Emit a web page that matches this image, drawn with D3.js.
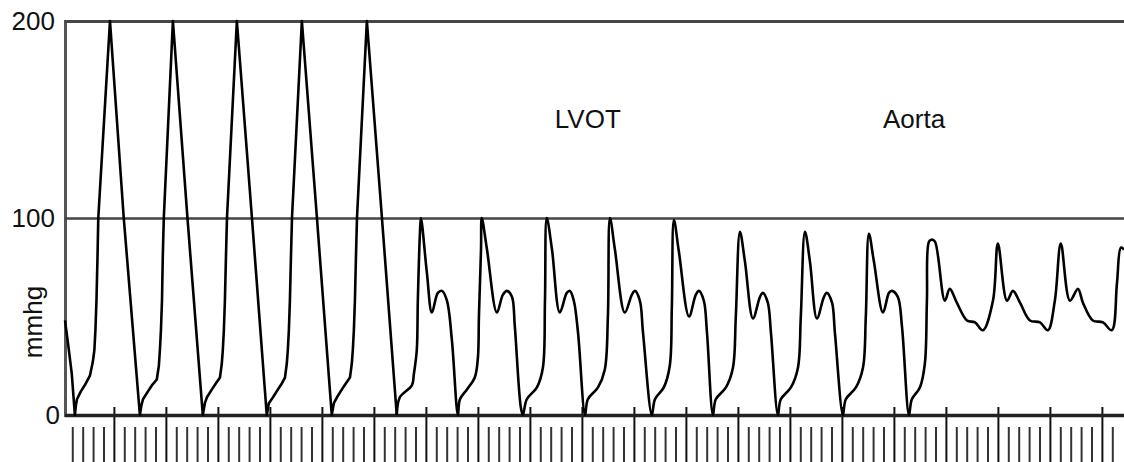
<!DOCTYPE html>
<html>
<head>
<meta charset="utf-8">
<script src="https://cdn.jsdelivr.net/npm/d3@7"></script>
<style>
  body { margin: 0; background: #fff; }
  text { font-family: "Liberation Sans", Arial, Helvetica, sans-serif; fill: #111; }
</style>
</head>
<body>
<svg id="mainSvg"></svg>
<script>
// time in ms (major tick = 200 ms), pressure in mmHg
const yTicks = [0, 100, 200];
const majorTicks = d3.range(0, 3801, 200);
const minorTicks = d3.range(-160, 3841, 40).filter(t => t % 200 !== 0);

// pull-back through the LV cavity
const lvTrace = [
  [-188, 48], [-177, 37], [-162, 21], [-150, 0],
  [-146, 5], [-142, 8], [-127, 12], [-108, 16], [-92, 20], [-81, 27], [-75, 33], [-71, 43], [-67, 58], [-63, 80], [-60, 100],
  [-15, 200], [38, 100], [100, 0],
  [106, 5], [112, 8], [131, 12], [146, 15], [165, 18], [173, 25], [177, 33], [181, 43], [185, 58], [188, 80], [192, 100],
  [227, 200], [283, 100], [342, 0],
  [350, 6], [358, 9], [377, 13], [392, 16], [408, 19], [415, 26], [419, 33], [423, 43], [427, 58], [431, 80], [435, 100],
  [473, 200], [531, 100], [588, 0],
  [596, 6], [612, 9], [631, 13], [646, 16], [658, 19], [665, 26], [669, 33], [673, 43], [677, 58], [681, 80], [685, 100],
  [723, 200], [781, 100], [838, 0],
  [846, 6], [858, 9], [877, 13], [892, 16], [908, 19], [915, 26], [919, 33], [923, 43], [927, 58], [931, 80], [935, 100],
  [973, 200], [1031, 100], [1088, 0]
];

// LV outflow tract
const lvotTrace = [
  [1088, 0],
  [1100, 9], [1146, 15], [1154, 21], [1165, 33], [1169, 58], [1177, 92], [1181, 100], [1204, 72], [1223, 52],
  [1246, 62], [1262, 63], [1281, 58], [1300, 38], [1323, 0],
  [1331, 8], [1358, 13], [1388, 19], [1400, 29], [1404, 50], [1412, 84], [1415, 100], [1435, 84], [1473, 52],
  [1496, 61], [1512, 63], [1531, 60], [1542, 45], [1565, 4], [1573, 0],
  [1588, 8], [1627, 14], [1650, 24], [1658, 58], [1665, 100], [1685, 84], [1715, 52],
  [1742, 62], [1754, 63], [1769, 58], [1785, 42], [1812, 0],
  [1823, 8], [1862, 14], [1888, 23], [1900, 50], [1908, 100], [1927, 84], [1965, 52],
  [1992, 61], [2004, 63], [2023, 58], [2035, 42], [2069, 0],
  [2081, 8], [2115, 14], [2138, 25], [2146, 55], [2154, 99], [2173, 83], [2212, 50],
  [2238, 61], [2250, 63], [2269, 58], [2281, 42], [2304, 0],
  [2315, 8], [2354, 14], [2381, 24], [2392, 50], [2408, 93], [2427, 78], [2458, 49],
  [2485, 60], [2496, 62], [2515, 57], [2527, 42], [2554, 0],
  [2565, 8], [2604, 14], [2631, 24], [2642, 50], [2658, 93], [2677, 78], [2704, 49],
  [2731, 60], [2742, 62], [2762, 57], [2773, 42], [2804, 0],
  [2815, 8], [2854, 14], [2881, 24], [2892, 50], [2904, 92], [2923, 78], [2958, 52],
  [2981, 62], [2992, 63], [3015, 60], [3031, 45], [3058, 0]
];

// aorta
const aortaTrace = [
  [3069, 8], [3100, 14], [3119, 26], [3127, 58], [3135, 88], [3146, 89], [3158, 88], [3196, 58], [3215, 64],
  [3242, 57], [3281, 48], [3312, 47], [3342, 43],
  [3381, 58], [3400, 87], [3435, 58], [3458, 63], [3485, 57], [3523, 48], [3562, 47], [3592, 43],
  [3619, 58], [3642, 87], [3677, 58], [3708, 64], [3727, 57], [3765, 48], [3804, 47], [3838, 43],
  [3858, 67], [3873, 85], [3885, 84]
];

const labels = [
  { text: 'LVOT', t: 1696 },
  { text: 'Aorta', t: 2958 }
];

const width = 1124;
const height = 462;
const plotLeft = 65;
const plotTop = 21;
const baseY = 415;

const svg = d3.select('#mainSvg')
  .attr('width', width)
  .attr('height', height);

const xScale = d3.scaleLinear()
  .domain([-188, 3885])
  .range([plotLeft, width]);

const yScale = d3.scaleLinear()
  .domain([0, 200])
  .range([baseY, plotTop]);

// minor time marks under the baseline
svg.append('g')
  .attr('transform', `translate(0,427)`)
  .call(d3.axisBottom(xScale).tickValues(minorTicks).tickSize(35).tickFormat(''))
  .call(g => g.select('.domain').remove())
  .call(g => g.selectAll('line').attr('stroke', '#333').attr('stroke-width', 2));

// major time marks crossing the baseline
svg.append('g')
  .attr('transform', `translate(0,407)`)
  .call(d3.axisBottom(xScale).tickValues(majorTicks).tickSize(56).tickFormat(''))
  .call(g => g.select('.domain').remove())
  .call(g => g.selectAll('line').attr('stroke', '#111').attr('stroke-width', 2));

// pressure axis + grid
const yAxis = svg.append('g')
  .attr('transform', `translate(${plotLeft},0)`)
  .call(d3.axisLeft(yScale).tickValues(yTicks).tickSize(-(width - plotLeft)).tickPadding(10));

yAxis.select('.domain')
  .attr('stroke', '#555')
  .attr('stroke-width', 3);

yAxis.selectAll('.tick line')
  .attr('stroke', d => d === 0 ? '#222' : '#444')
  .attr('stroke-width', d => d === 0 ? 3.5 : 2.5);

yAxis.selectAll('.tick text')
  .style('font-size', '26px')
  .attr('fill', '#111')
  .attr('dx', d => d === 0 ? 5 : 0);

svg.append('text')
  .attr('transform', 'rotate(-90)')
  .attr('x', -322)
  .attr('y', 42)
  .style('text-anchor', 'middle')
  .style('font-size', '26px')
  .text('mmhg');

// pressure trace: sharp LV spikes, smoothed LVOT / aortic waves
const lvLine = d3.line()
  .x(d => xScale(d[0]))
  .y(d => yScale(d[1]));

const smoothLine = d3.line()
  .curve(d3.curveCatmullRom.alpha(0.5))
  .x(d => xScale(d[0]))
  .y(d => yScale(d[1]));

svg.append('path')
  .datum(lvTrace)
  .attr('d', lvLine)
  .attr('fill', 'none')
  .attr('stroke', '#000')
  .attr('stroke-width', 2.6)
  .attr('stroke-linejoin', 'round');

svg.append('path')
  .datum(lvotTrace.concat(aortaTrace))
  .attr('d', smoothLine)
  .attr('fill', 'none')
  .attr('stroke', '#000')
  .attr('stroke-width', 2.6)
  .attr('stroke-linejoin', 'round');

svg.selectAll('.site-label')
  .data(labels)
  .enter()
  .append('text')
  .classed('site-label', true)
  .attr('x', d => xScale(d.t))
  .attr('y', 128)
  .style('font-size', '26px')
  .text(d => d.text);
</script>
</body>
</html>
